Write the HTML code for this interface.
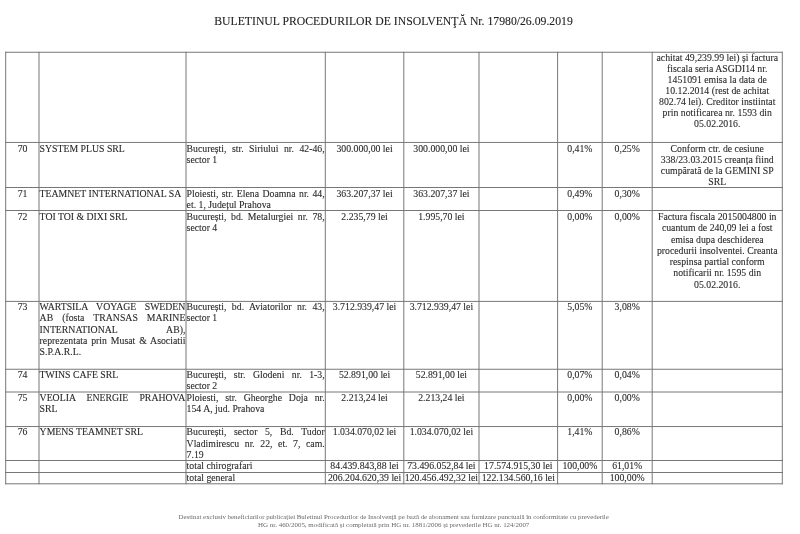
<!DOCTYPE html>
<html lang="ro"><head><meta charset="utf-8"><title>Buletinul Procedurilor de Insolvenţă</title>
<style>
html,body{margin:0;padding:0;background:#fff;}
body{width:800px;height:534px;position:relative;overflow:hidden;font-family:"Liberation Serif","Times New Roman",serif;color:#2a2a2a;}
.t{position:absolute;white-space:nowrap;-webkit-text-stroke:0.1px #2a2a2a;font-size:9.78px;line-height:11.1px;height:11.1px;}
.c{text-align:center;}
.j{text-align:justify;text-align-last:justify;}
.l{text-align:left;}
.h{position:absolute;height:1px;background:#777;}
.v{position:absolute;width:1px;background:#777;}
#title{-webkit-text-stroke:0.1px #222;position:absolute;left:-6.5px;width:800px;top:15.2px;text-align:center;font-size:11.72px;line-height:14px;white-space:nowrap;color:#222;}
#foot{position:absolute;left:-6.3px;width:800px;top:512.9px;text-align:center;font-size:6.85px;line-height:7.7px;color:#6a6a6a;white-space:nowrap;}
</style></head><body>
<div id="title">BULETINUL PROCEDURILOR DE INSOLVENŢĂ Nr. 17980/26.09.2019</div>

<svg width="800" height="534" viewBox="0 0 800 534" style="position:absolute;left:0;top:0"><g stroke="#777" stroke-width="1" fill="none">
<line x1="5.20" y1="52.25" x2="782.80" y2="52.25"/>
<line x1="5.20" y1="142.45" x2="782.80" y2="142.45"/>
<line x1="5.20" y1="187.50" x2="782.80" y2="187.50"/>
<line x1="5.20" y1="210.50" x2="782.80" y2="210.50"/>
<line x1="5.20" y1="301.40" x2="782.80" y2="301.40"/>
<line x1="5.20" y1="369.25" x2="782.80" y2="369.25"/>
<line x1="5.20" y1="392.00" x2="782.80" y2="392.00"/>
<line x1="5.20" y1="426.55" x2="782.80" y2="426.55"/>
<line x1="5.20" y1="460.50" x2="782.80" y2="460.50"/>
<line x1="5.20" y1="472.50" x2="782.80" y2="472.50"/>
<line x1="5.20" y1="483.80" x2="782.80" y2="483.80"/>
<line x1="5.70" y1="51.75" x2="5.70" y2="484.30"/>
<line x1="39.00" y1="51.75" x2="39.00" y2="484.30"/>
<line x1="186.00" y1="51.75" x2="186.00" y2="484.30"/>
<line x1="325.30" y1="51.75" x2="325.30" y2="484.30"/>
<line x1="403.80" y1="51.75" x2="403.80" y2="484.30"/>
<line x1="479.00" y1="51.75" x2="479.00" y2="484.30"/>
<line x1="557.60" y1="51.75" x2="557.60" y2="484.30"/>
<line x1="602.20" y1="51.75" x2="602.20" y2="484.30"/>
<line x1="652.20" y1="51.75" x2="652.20" y2="484.30"/>
<line x1="782.30" y1="51.75" x2="782.30" y2="484.30"/>
</g></svg>
<div class="t c" style="left:652.80px;width:128.90px;top:52.00px">achitat 49,239.99 lei) și factura</div>
<div class="t c" style="left:652.80px;width:128.90px;top:63.07px">fiscala seria ASGDI14 nr.</div>
<div class="t c" style="left:652.80px;width:128.90px;top:74.14px">1451091 emisa la data de</div>
<div class="t c" style="left:652.80px;width:128.90px;top:85.21px">10.12.2014 (rest de achitat</div>
<div class="t c" style="left:652.80px;width:128.90px;top:96.28px">802.74 lei). Creditor instiintat</div>
<div class="t c" style="left:652.80px;width:128.90px;top:107.35px">prin notificarea nr. 1593 din</div>
<div class="t c" style="left:652.80px;width:128.90px;top:118.42px">05.02.2016.</div>
<div class="t c" style="left:6.50px;width:32.10px;top:143.00px">70</div>
<div class="t l" style="left:39.60px;width:145.80px;top:143.00px">SYSTEM PLUS SRL</div>
<div class="t j" style="left:186.60px;width:138.10px;top:143.00px">București, str. Siriului nr. 42-46,</div>
<div class="t l" style="left:186.60px;width:138.10px;top:154.10px">sector 1</div>
<div class="t c" style="left:325.90px;width:77.30px;top:143.00px">300.000,00 lei</div>
<div class="t c" style="left:404.40px;width:74.00px;top:143.00px">300.000,00 lei</div>
<div class="t c" style="left:558.20px;width:43.40px;top:143.00px">0,41%</div>
<div class="t c" style="left:602.80px;width:48.80px;top:143.00px">0,25%</div>
<div class="t c" style="left:652.80px;width:128.90px;top:143.00px">Conform ctr. de cesiune</div>
<div class="t c" style="left:652.80px;width:128.90px;top:154.09px">338/23.03.2015 creanța fiind</div>
<div class="t c" style="left:652.80px;width:128.90px;top:165.18px">cumpărată de la GEMINI SP</div>
<div class="t c" style="left:652.80px;width:128.90px;top:176.27px">SRL</div>
<div class="t c" style="left:6.50px;width:32.10px;top:188.00px">71</div>
<div class="t l" style="left:39.60px;width:145.80px;top:188.00px">TEAMNET INTERNATIONAL SA</div>
<div class="t j" style="left:186.60px;width:138.10px;top:188.00px">Ploiesti, str. Elena Doamna nr. 44,</div>
<div class="t l" style="left:186.60px;width:138.10px;top:199.10px">et. 1, Județul Prahova</div>
<div class="t c" style="left:325.90px;width:77.30px;top:188.00px">363.207,37 lei</div>
<div class="t c" style="left:404.40px;width:74.00px;top:188.00px">363.207,37 lei</div>
<div class="t c" style="left:558.20px;width:43.40px;top:188.00px">0,49%</div>
<div class="t c" style="left:602.80px;width:48.80px;top:188.00px">0,30%</div>
<div class="t c" style="left:6.50px;width:32.10px;top:211.00px">72</div>
<div class="t l" style="left:39.60px;width:145.80px;top:211.00px">TOI TOI &amp; DIXI SRL</div>
<div class="t j" style="left:186.60px;width:138.10px;top:211.00px">București, bd. Metalurgiei nr. 78,</div>
<div class="t l" style="left:186.60px;width:138.10px;top:222.10px">sector 4</div>
<div class="t c" style="left:325.90px;width:77.30px;top:211.00px">2.235,79 lei</div>
<div class="t c" style="left:404.40px;width:74.00px;top:211.00px">1.995,70 lei</div>
<div class="t c" style="left:558.20px;width:43.40px;top:211.00px">0,00%</div>
<div class="t c" style="left:602.80px;width:48.80px;top:211.00px">0,00%</div>
<div class="t c" style="left:652.80px;width:128.90px;top:211.00px">Factura fiscala 2015004800 in</div>
<div class="t c" style="left:652.80px;width:128.90px;top:222.27px">cuantum de 240,09 lei a fost</div>
<div class="t c" style="left:652.80px;width:128.90px;top:233.54px">emisa dupa deschiderea</div>
<div class="t c" style="left:652.80px;width:128.90px;top:244.81px">procedurii insolventei. Creanta</div>
<div class="t c" style="left:652.80px;width:128.90px;top:256.08px">respinsa partial conform</div>
<div class="t c" style="left:652.80px;width:128.90px;top:267.35px">notificarii nr. 1595 din</div>
<div class="t c" style="left:652.80px;width:128.90px;top:278.62px">05.02.2016.</div>
<div class="t c" style="left:6.50px;width:32.10px;top:301.00px">73</div>
<div class="t j" style="left:39.60px;width:145.80px;top:301.00px">WARTSILA VOYAGE SWEDEN</div>
<div class="t j" style="left:39.60px;width:145.80px;top:312.29px">AB (fosta TRANSAS MARINE</div>
<div class="t j" style="left:39.60px;width:145.80px;top:323.58px">INTERNATIONAL AB),</div>
<div class="t j" style="left:39.60px;width:145.80px;top:334.87px">reprezentata prin Musat &amp; Asociatii</div>
<div class="t l" style="left:39.60px;width:145.80px;top:346.16px">S.P.A.R.L.</div>
<div class="t j" style="left:186.60px;width:138.10px;top:301.00px">București, bd. Aviatorilor nr. 43,</div>
<div class="t l" style="left:186.60px;width:138.10px;top:312.10px">sector 1</div>
<div class="t c" style="left:325.90px;width:77.30px;top:301.00px">3.712.939,47 lei</div>
<div class="t c" style="left:404.40px;width:74.00px;top:301.00px">3.712.939,47 lei</div>
<div class="t c" style="left:558.20px;width:43.40px;top:301.00px">5,05%</div>
<div class="t c" style="left:602.80px;width:48.80px;top:301.00px">3,08%</div>
<div class="t c" style="left:6.50px;width:32.10px;top:369.00px">74</div>
<div class="t l" style="left:39.60px;width:145.80px;top:369.00px">TWINS CAFE SRL</div>
<div class="t j" style="left:186.60px;width:138.10px;top:369.00px">București, str. Glodeni nr. 1-3,</div>
<div class="t l" style="left:186.60px;width:138.10px;top:380.10px">sector 2</div>
<div class="t c" style="left:325.90px;width:77.30px;top:369.00px">52.891,00 lei</div>
<div class="t c" style="left:404.40px;width:74.00px;top:369.00px">52.891,00 lei</div>
<div class="t c" style="left:558.20px;width:43.40px;top:369.00px">0,07%</div>
<div class="t c" style="left:602.80px;width:48.80px;top:369.00px">0,04%</div>
<div class="t c" style="left:6.50px;width:32.10px;top:392.00px">75</div>
<div class="t j" style="left:39.60px;width:145.80px;top:392.00px">VEOLIA ENERGIE PRAHOVA</div>
<div class="t l" style="left:39.60px;width:145.80px;top:403.10px">SRL</div>
<div class="t j" style="left:186.60px;width:138.10px;top:392.00px">Ploiesti, str. Gheorghe Doja nr.</div>
<div class="t l" style="left:186.60px;width:138.10px;top:403.10px">154 A, jud. Prahova</div>
<div class="t c" style="left:325.90px;width:77.30px;top:392.00px">2.213,24 lei</div>
<div class="t c" style="left:404.40px;width:74.00px;top:392.00px">2.213,24 lei</div>
<div class="t c" style="left:558.20px;width:43.40px;top:392.00px">0,00%</div>
<div class="t c" style="left:602.80px;width:48.80px;top:392.00px">0,00%</div>
<div class="t c" style="left:6.50px;width:32.10px;top:426.00px">76</div>
<div class="t l" style="left:39.60px;width:145.80px;top:426.00px">YMENS TEAMNET SRL</div>
<div class="t j" style="left:186.60px;width:138.10px;top:426.00px">București, sector 5, Bd. Tudor</div>
<div class="t j" style="left:186.60px;width:138.10px;top:437.60px">Vladimirescu nr. 22, et. 7, cam.</div>
<div class="t l" style="left:186.60px;width:138.10px;top:449.20px">7.19</div>
<div class="t c" style="left:325.90px;width:77.30px;top:426.00px">1.034.070,02 lei</div>
<div class="t c" style="left:404.40px;width:74.00px;top:426.00px">1.034.070,02 lei</div>
<div class="t c" style="left:558.20px;width:43.40px;top:426.00px">1,41%</div>
<div class="t c" style="left:602.80px;width:48.80px;top:426.00px">0,86%</div>
<div class="t l" style="left:186.60px;width:138.10px;top:460.00px">total chirografari</div>
<div class="t c" style="left:325.90px;width:77.30px;top:460.00px">84.439.843,88 lei</div>
<div class="t c" style="left:404.40px;width:74.00px;top:460.00px">73.496.052,84 lei</div>
<div class="t c" style="left:479.60px;width:77.40px;top:460.00px">17.574.915,30 lei</div>
<div class="t c" style="left:558.20px;width:43.40px;top:460.00px">100,00%</div>
<div class="t c" style="left:602.80px;width:48.80px;top:460.00px">61,01%</div>
<div class="t l" style="left:186.60px;width:138.10px;top:472.00px">total general</div>
<div class="t c" style="left:325.90px;width:77.30px;top:472.00px">206.204.620,39 lei</div>
<div class="t c" style="left:404.40px;width:74.00px;top:472.00px">120.456.492,32 lei</div>
<div class="t c" style="left:479.60px;width:77.40px;top:472.00px">122.134.560,16 lei</div>
<div class="t c" style="left:602.80px;width:48.80px;top:472.00px">100,00%</div>
<div id="foot">Destinat exclusiv beneficiarilor publicaţiei Buletinul Procedurilor de Insolvenţă pe bază de abonament sau furnizare punctuală în conformitate cu prevederile<br><span style="font-size:6.94px">HG nr. 460/2005, modificată şi completată prin HG nr. 1881/2006 şi prevederile HG nr. 124/2007</span></div>
</body></html>
